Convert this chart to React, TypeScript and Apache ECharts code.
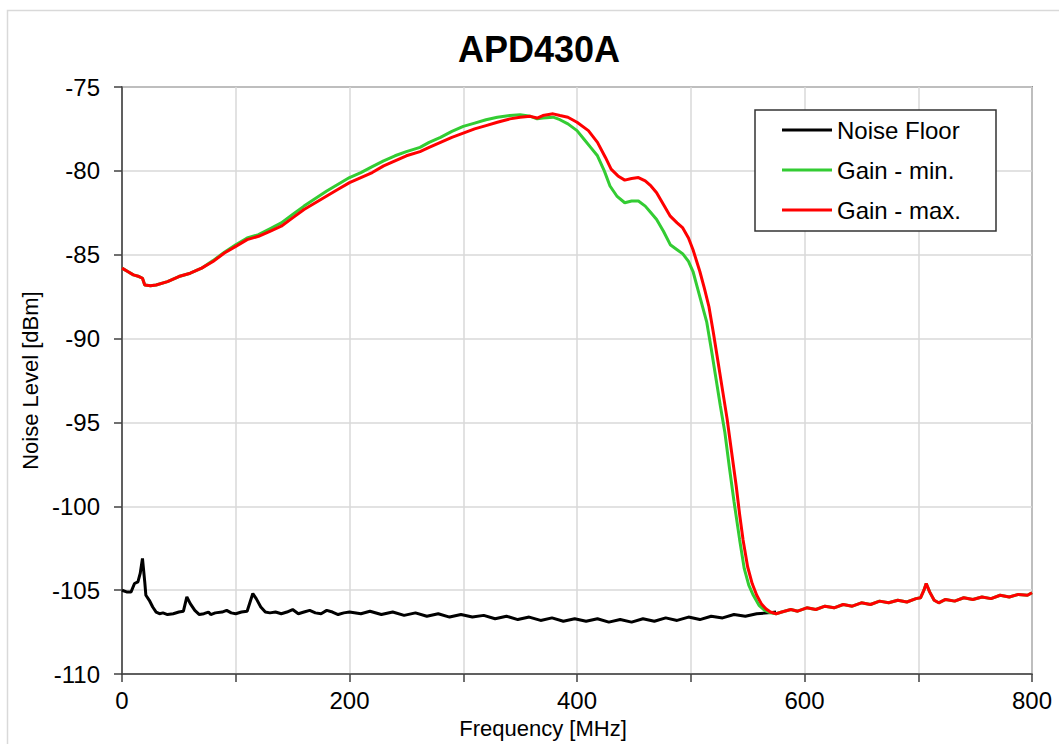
import React, { useEffect, useRef } from "react";
import * as echarts from "echarts";

const FONT = "'Liberation Sans', Arial, sans-serif";

// Noise floor (black)
const nfFreq = [0, 4, 8, 11, 14, 16, 18, 20, 21, 24, 27, 30, 33, 36, 40, 45, 50, 54, 57, 60, 64, 68, 72, 76, 78, 82, 88, 92, 96, 100, 105, 110, 115, 118, 122, 126, 130, 135, 140, 145, 150, 155, 160, 165, 170, 175, 180, 185, 190, 195, 200, 210, 218, 228, 238, 248, 258, 268, 278, 288, 298, 308, 318, 328, 338, 348, 358, 368, 378, 388, 398, 408, 418, 428, 438, 448, 458, 468, 478, 488, 498, 508, 518, 528, 538, 548, 558, 568, 575];
const nfLevel = [-105.0, -105.1, -105.1, -104.6, -104.5, -104.0, -103.1, -104.5, -105.3, -105.6, -106.0, -106.3, -106.4, -106.35, -106.45, -106.4, -106.3, -106.25, -105.4, -105.8, -106.2, -106.45, -106.4, -106.3, -106.45, -106.35, -106.3, -106.2, -106.35, -106.4, -106.3, -106.25, -105.2, -105.5, -106.0, -106.3, -106.35, -106.3, -106.4, -106.3, -106.15, -106.4, -106.3, -106.2, -106.35, -106.4, -106.2, -106.3, -106.45, -106.35, -106.3, -106.4, -106.25, -106.45, -106.3, -106.5, -106.35, -106.55, -106.4, -106.6, -106.45, -106.6, -106.5, -106.7, -106.55, -106.75, -106.6, -106.8, -106.65, -106.85, -106.7, -106.85, -106.7, -106.9, -106.75, -106.9, -106.7, -106.85, -106.65, -106.8, -106.6, -106.75, -106.55, -106.65, -106.45, -106.55, -106.4, -106.35, -106.3];

// Gain - max. (red), band part
const maxFreq = [0, 5, 10, 15, 18, 20, 25, 30, 40, 50, 60, 70, 80, 90, 100, 110, 120, 130, 140, 150, 160, 170, 180, 190, 200, 210, 220, 230, 240, 250, 262, 270, 280, 290, 300, 310, 320, 330, 341, 350, 359, 365, 370, 379, 385, 392, 400, 410, 418, 425, 430, 436, 442, 448, 454, 460, 465, 470, 476, 482, 488, 493, 498, 502, 508, 512, 516, 520, 524, 528, 532, 536, 540, 543, 546, 550, 554, 558, 562, 566, 570, 575];
const maxLevel = [-85.8, -86.0, -86.2, -86.3, -86.4, -86.8, -86.85, -86.8, -86.6, -86.3, -86.1, -85.8, -85.4, -84.9, -84.5, -84.1, -83.9, -83.6, -83.3, -82.8, -82.3, -81.9, -81.5, -81.1, -80.7, -80.4, -80.1, -79.7, -79.4, -79.1, -78.85, -78.6, -78.3, -78.0, -77.75, -77.5, -77.3, -77.1, -76.9, -76.8, -76.75, -76.85, -76.7, -76.6, -76.7, -76.8, -77.1, -77.6, -78.3, -79.2, -79.9, -80.3, -80.55, -80.45, -80.4, -80.6, -80.9, -81.3, -82.0, -82.7, -83.1, -83.4, -84.0, -84.7, -86.0, -87.0, -88.1, -89.7, -91.4, -93.1, -94.8, -96.8, -98.8, -100.5, -102.0, -103.6, -104.6, -105.3, -105.8, -106.1, -106.3, -106.4];

// Gain - min. (green), band part
const minFreq = [0, 5, 10, 15, 18, 20, 25, 30, 40, 50, 60, 70, 80, 90, 100, 110, 120, 130, 140, 150, 160, 170, 180, 190, 200, 210, 220, 230, 240, 250, 262, 270, 280, 290, 300, 310, 320, 330, 341, 350, 359, 365, 370, 379, 385, 392, 400, 406, 412, 418, 424, 429, 435, 442, 448, 454, 460, 465, 470, 476, 482, 488, 493, 498, 502, 506, 510, 514, 518, 522, 526, 530, 534, 538, 543, 547, 551, 555, 560, 565, 570, 575];
const minLevel = [-85.8, -86.0, -86.2, -86.3, -86.4, -86.8, -86.85, -86.8, -86.6, -86.3, -86.1, -85.8, -85.35, -84.85, -84.4, -84.0, -83.8, -83.45, -83.1, -82.6, -82.1, -81.65, -81.2, -80.8, -80.4, -80.1, -79.75, -79.4, -79.1, -78.85, -78.6, -78.3, -78.0, -77.65, -77.35, -77.15, -76.95, -76.8, -76.7, -76.65, -76.75, -76.9, -76.85, -76.8, -76.95, -77.2, -77.6, -78.1, -78.6, -79.1, -80.0, -80.9, -81.5, -81.9, -81.8, -81.8, -82.1, -82.5, -82.9, -83.6, -84.4, -84.7, -84.95, -85.4, -86.0, -87.0, -88.0, -89.0, -90.6, -92.3, -94.0, -95.6, -97.7, -99.7, -102.0, -103.7, -104.7, -105.3, -105.9, -106.2, -106.35, -106.4];

// Shared tail above the band (both gains coincide)
const tailFreq = [580, 588, 594, 602, 610, 618, 626, 634, 642, 650, 658, 666, 674, 682, 690, 698, 702, 705, 707, 710, 714, 718, 724, 732, 740, 748, 756, 764, 772, 780, 788, 796, 800];
const tailLevel = [-106.3, -106.15, -106.25, -106.05, -106.15, -105.95, -106.05, -105.85, -105.95, -105.75, -105.85, -105.65, -105.75, -105.6, -105.7, -105.5, -105.45, -105.0, -104.6, -105.1, -105.6, -105.75, -105.55, -105.65, -105.45, -105.55, -105.4, -105.5, -105.3, -105.4, -105.25, -105.3, -105.15];

const yTicks = { min: -110, max: -75, step: 5 };
const xTicks = { min: 0, max: 800, step: 200 };

const pairs = (xs: number[], ys: number[]) => xs.map((x, i) => [x, ys[i]]);

export default function App() {
  const ref = useRef<HTMLDivElement>(null);
  useEffect(() => {
    if (!ref.current) return;
    const chart = echarts.init(ref.current, null, { renderer: "svg" });
    const axisColor = "#404040";
    const gridColor = "#d9d9d9";
    chart.setOption({
      animation: false,
      backgroundColor: "#ffffff",
      title: {
        text: "APD430A",
        left: 458,
        top: 31,
        padding: 0,
        textStyle: { fontFamily: FONT, fontSize: 36, fontWeight: "bold", color: "#000" },
      },
      graphic: [
        {
          type: "rect",
          shape: { x: 7.5, y: 10.5, width: 1100, height: 900 },
          style: { fill: "none", stroke: "#d9d9d9", lineWidth: 1.5 },
          silent: true,
          z: -10,
        },
        {
          type: "rect",
          shape: { x: 755, y: 110, width: 241, height: 121 },
          style: { fill: "#fff", stroke: "#333", lineWidth: 1.5 },
          z: 5,
        },
      ],
      legend: {
        left: 782,
        top: 118,
        padding: 0,
        orient: "vertical",
        itemGap: 16,
        itemWidth: 50,
        itemHeight: 3,
        icon: "rect",
        z: 10,
        textStyle: { fontFamily: FONT, fontSize: 24, lineHeight: 24, color: "#000" },
        data: ["Noise Floor", "Gain - min.", "Gain - max."],
      },
      grid: {
        left: 122,
        top: 87,
        right: 27,
        bottom: 69,
        show: true,
        borderColor: axisColor,
        borderWidth: 1.5,
      },
      xAxis: {
        type: "value",
        min: xTicks.min,
        max: xTicks.max,
        interval: xTicks.step,
        name: "Frequency [MHz]",
        nameLocation: "middle",
        nameGap: 42,
        nameTextStyle: { fontFamily: FONT, fontSize: 22, color: "#000", padding: [0, 68, 0, 0] },
        axisLine: { show: true, lineStyle: { color: axisColor, width: 1.5 } },
        axisTick: { show: true, length: 8, lineStyle: { color: axisColor, width: 1.5 } },
        minorTick: { show: true, splitNumber: 2, length: 8, lineStyle: { color: axisColor, width: 1.5 } },
        splitLine: { show: true, lineStyle: { color: gridColor, width: 1.5 } },
        minorSplitLine: { show: true, lineStyle: { color: gridColor, width: 1.5 } },
        axisLabel: { fontFamily: FONT, fontSize: 24, color: "#000", margin: 14 },
      },
      yAxis: {
        type: "value",
        min: yTicks.min,
        max: yTicks.max,
        interval: yTicks.step,
        name: "Noise Level [dBm]",
        nameLocation: "middle",
        nameGap: 76,
        nameTextStyle: { fontFamily: FONT, fontSize: 22, color: "#000" },
        axisLine: { show: true, lineStyle: { color: axisColor, width: 1.5 } },
        axisTick: { show: true, length: 8, lineStyle: { color: axisColor, width: 1.5 } },
        splitLine: { show: true, lineStyle: { color: gridColor, width: 1.5 } },
        axisLabel: { fontFamily: FONT, fontSize: 24, color: "#000", margin: 22 },
      },
      series: [
        {
          name: "Noise Floor",
          type: "line",
          symbol: "none",
          data: pairs(nfFreq, nfLevel),
          lineStyle: { color: "#000000", width: 3 },
          itemStyle: { color: "#000000" },
        },
        {
          name: "Gain - min.",
          type: "line",
          symbol: "none",
          data: pairs(minFreq.concat(tailFreq), minLevel.concat(tailLevel)),
          lineStyle: { color: "#33cc33", width: 3 },
          itemStyle: { color: "#33cc33" },
        },
        {
          name: "Gain - max.",
          type: "line",
          symbol: "none",
          data: pairs(maxFreq.concat(tailFreq), maxLevel.concat(tailLevel)),
          lineStyle: { color: "#ff0000", width: 3 },
          itemStyle: { color: "#ff0000" },
        },
      ],
    });
    return () => chart.dispose();
  }, []);
  return (
    <div
      ref={ref}
      style={{ position: "absolute", left: 0, top: 0, width: 1059, height: 744 }}
    />
  );
}
